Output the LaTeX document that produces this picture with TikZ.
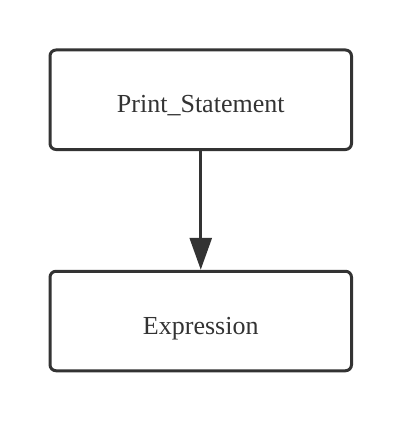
\documentclass[tikz,border=0pt]{standalone}
\usepackage{fontspec}
\setmainfont{Liberation Serif}
\usetikzlibrary{arrows.meta}
\definecolor{ink}{HTML}{333333}
\begin{document}
\begin{tikzpicture}[x=1pt,y=-1pt,
  box/.style={draw=ink, line width=3pt, rounded corners=6pt, minimum width=301.5pt, minimum height=99.5pt, inner sep=0pt, text=ink, text height=26pt, text depth=0pt, font=\fontsize{26}{30}\selectfont},
  conn/.style={draw=ink, line width=3pt, -{Triangle[length=32pt,width=22pt]}}]
\useasboundingbox (0,0) rectangle (402,422);
\node[box] (a) at (200.75,99.75) {Print\_Statement};
\node[box] (b) at (200.75,321) {Expression};
\draw[conn] (a) -- (b);
\end{tikzpicture}
\end{document}
